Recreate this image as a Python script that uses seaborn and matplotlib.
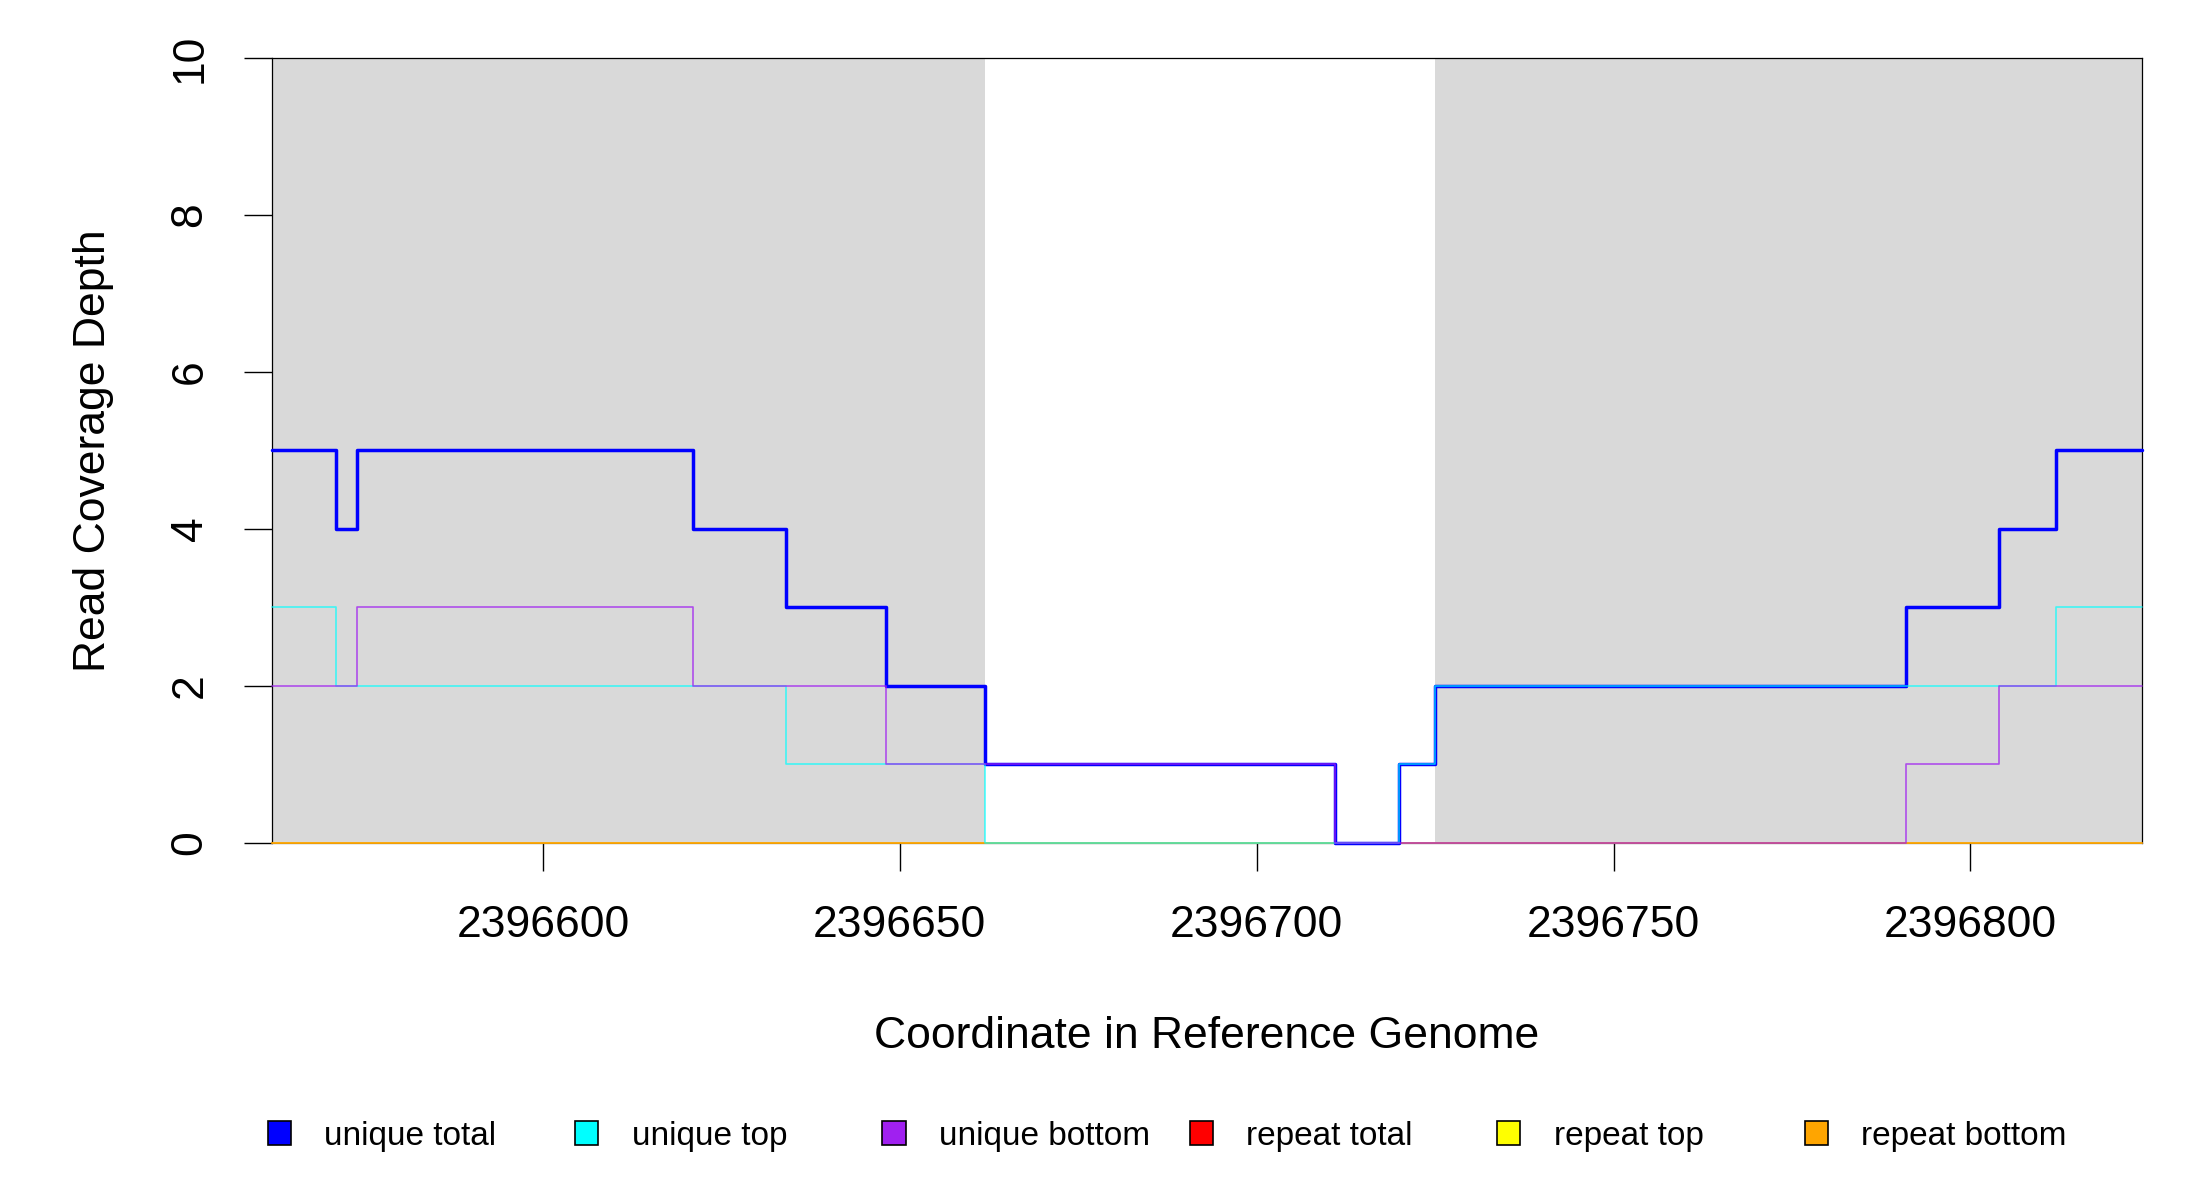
import numpy as np
import pandas as pd
import matplotlib
matplotlib.use("Agg")
import matplotlib.pyplot as plt
from matplotlib.patches import Patch
import seaborn as sns

# coverage change points (step starts) along the reference
positions = [2396562, 2396571, 2396574, 2396621, 2396634, 2396648, 2396662,
             2396711, 2396720, 2396725, 2396791, 2396804, 2396812, 2396824]
unique_total = [5, 4, 5, 4, 3, 2, 1, 0, 1, 2, 3, 4, 5, 5]
unique_top = [3, 2, 2, 2, 1, 1, 0, 0, 1, 2, 2, 2, 3, 3]
unique_bottom = [2, 2, 3, 2, 2, 1, 1, 0, 0, 0, 1, 2, 2, 2]
repeat_total = [0] * len(positions)
repeat_top = [0] * len(positions)
repeat_bottom = [0] * len(positions)

# shaded (grey) regions
shaded = [(2396562, 2396662), (2396725, 2396824)]

x_ticks = [2396600, 2396650, 2396700, 2396750, 2396800]
y_ticks = [0, 2, 4, 6, 8, 10]

series_names = ["unique total", "unique top", "unique bottom",
                "repeat total", "repeat top", "repeat bottom"]
series_colors = ["#0000FF", "#00FFFF", "#A020F0", "#FF0000", "#FFFF00", "#FFA500"]

df = pd.DataFrame({
    "pos": positions,
    "unique total": unique_total,
    "unique top": unique_top,
    "unique bottom": unique_bottom,
    "repeat total": repeat_total,
    "repeat top": repeat_top,
    "repeat bottom": repeat_bottom,
})

sns.set_style("ticks")
plt.rcParams['font.family'] = ['Liberation Sans', 'DejaVu Sans']
plt.rcParams['text.color'] = 'black'
plt.rcParams['axes.labelcolor'] = 'black'
plt.rcParams['xtick.color'] = 'black'
plt.rcParams['ytick.color'] = 'black'

fig = plt.figure(figsize=(22, 12), dpi=100)
ax = fig.add_axes([0.1235, 0.2978, 0.85, 0.6536])

for lo, hi in shaded:
    ax.axvspan(lo, hi, color="#D9D9D9", lw=0, zorder=0)

# repeats drawn first, unique on top
style = {
    "repeat total": dict(lw=1.2, alpha=0.6, z=3),
    "repeat top": dict(lw=1.2, alpha=0.6, z=3.1),
    "repeat bottom": dict(lw=1.2, alpha=0.8, z=3.2),
    "unique total": dict(lw=2.5, alpha=1.0, z=4),
    "unique top": dict(lw=1.2, alpha=0.7, z=4.1),
    "unique bottom": dict(lw=1.2, alpha=0.75, z=4.2),
}
order = ["repeat total", "repeat top", "repeat bottom",
         "unique total", "unique top", "unique bottom"]
for name in order:
    s = style[name]
    col = series_colors[series_names.index(name)]
    sns.lineplot(data=df, x="pos", y=name, ax=ax, color=col, lw=s["lw"],
                 alpha=s["alpha"], drawstyle="steps-post", estimator=None,
                 legend=False, zorder=s["z"], clip_on=False)

ax.set_xlim(positions[0], positions[-1])
ax.set_ylim(0, 10)
ax.set_xticks(x_ticks)
ax.set_xticklabels([str(t) for t in x_ticks], fontsize=32)
ax.set_yticks(y_ticks)
ax.set_yticklabels([str(t) for t in y_ticks], fontsize=32, rotation=90,
                   va="center")
ax.tick_params(axis="both", length=20, width=1, color="black", direction="out")
ax.tick_params(axis="x", pad=25)
ax.tick_params(axis="y", pad=24)

for sp in ax.spines.values():
    sp.set_color("black")
    sp.set_linewidth(0.9)
ax.spines["bottom"].set_color("#555555")

ax.set_xlabel("Coordinate in Reference Genome", fontsize=32, labelpad=50)
ax.set_ylabel("Read Coverage Depth", fontsize=32, labelpad=40)

# legend row at the bottom, evenly spaced like the original
for i, (name, col) in enumerate(zip(series_names, series_colors)):
    h = Patch(facecolor=col, edgecolor="black", linewidth=1.2)
    fig.legend(handles=[h], labels=[name], loc="center left",
               bbox_to_anchor=((267.5 + i * 307.4) / 2200, 1 - 1136 / 1200),
               frameon=False, fontsize=24, borderpad=0, borderaxespad=0,
               handlelength=0.7, handleheight=0.7, handletextpad=1.0)

fig.savefig("out.png", dpi=100, facecolor="white")
